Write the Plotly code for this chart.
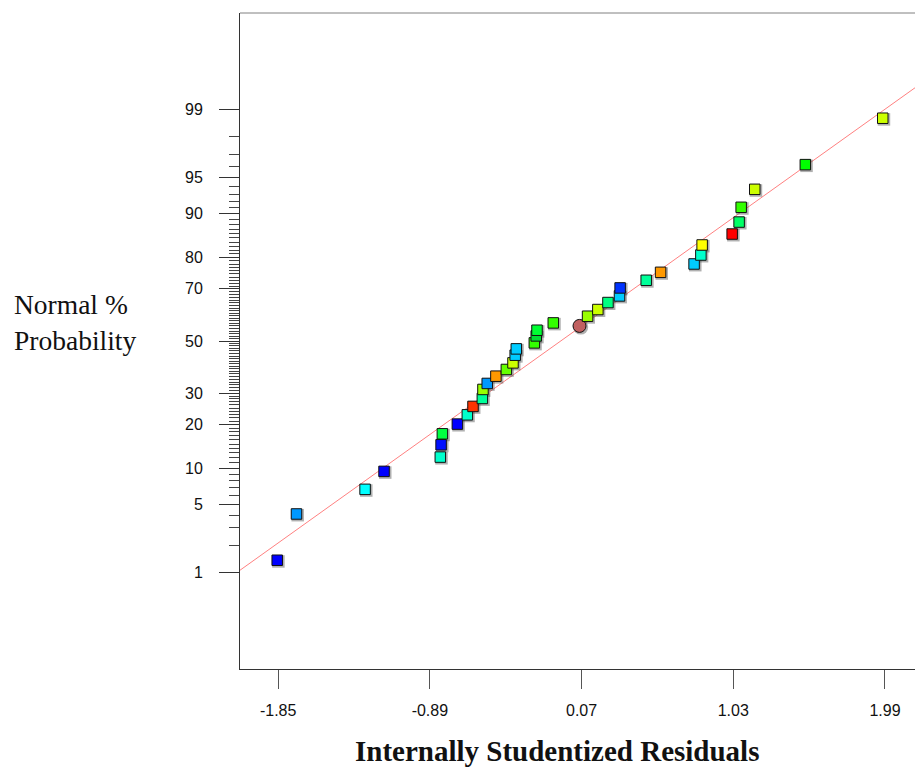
import plotly.graph_objects as go
from statistics import NormalDist

nd = NormalDist()

# Internally studentized residuals, sorted by their normal % probability
residuals = [-1.856, -1.734, -1.300, -1.180, -0.824, -0.819, -0.811, -0.716,
             -0.653, -0.617, -0.558, -0.554, -0.527, -0.472, -0.406, -0.364,
             -0.350, -0.343, -0.229, -0.217, -0.212, 0.057, -0.109, 0.108,
             0.173, 0.237, 0.310, 0.314, 0.479, 0.570, 0.782, 0.825, 0.833,
             1.023, 1.067, 1.080, 1.166, 1.486, 1.976]
normal_pct = [1.37, 4.09, 6.78, 9.48, 12.14, 14.82, 17.52, 20.16, 22.88,
              25.52, 28.16, 31.30, 33.47, 36.17, 38.73, 41.29, 44.32, 46.84,
              49.24, 52.04, 54.32, 56.03, 57.22, 59.84, 62.42, 65.06, 67.49,
              70.33, 72.94, 75.52, 78.08, 80.65, 83.30, 85.91, 88.43, 91.07,
              93.65, 96.20, 98.75]
point_colors = ["#0000FF", "#0099FF", "#00FFFF", "#0000FF", "#00FFCC", "#0010FF",
                "#00FF40", "#0000FF", "#00FFCC", "#FF3300", "#00FF99", "#99FF00",
                "#0099FF", "#FF9900", "#66FF00", "#CCFF00", "#00CCFF", "#00CCFF",
                "#33FF00", "#00DD33", "#00FF33", "#C06060", "#33FF00", "#99FF00",
                "#CCFF00", "#00FF80", "#00CCFF", "#0033FF", "#00FF99", "#FF9900",
                "#00CCFF", "#00FFCC", "#FFFF00", "#FF0000", "#00FF66", "#33FF00",
                "#CCFF00", "#00FF00", "#CCFF00"]
# the center point is drawn as a circle
point_symbols = ["square"] * 21 + ["circle"] + ["square"] * 17

# reference line through the residual distribution
resid_mean = -0.062
resid_sd = 0.880

x_ticks = [-1.85, -0.89, 0.07, 1.03, 1.99]
x_tick_labels = ["-1.85", "-0.89", "0.07", "1.03", "1.99"]
y_major_pct = [1, 5, 10, 20, 30, 50, 70, 80, 90, 95, 99]
y_minor_pct = [p for p in range(1, 100) if p not in y_major_pct]

X_RANGE = [-2.0915, 2.180]
Z_RANGE = [-3.30, 3.30]

W, H = 915, 768
ML, MR, MT, MB = 240, 0, 13, 99
plot_w = W - ML - MR
plot_h = H - MT - MB

z_vals = [nd.inv_cdf(p / 100.0) for p in normal_pct]

# small drop shadow offset, in axis units (~1.2 px right/down)
sx = 1.2 * (X_RANGE[1] - X_RANGE[0]) / plot_w
sz = 1.2 * (Z_RANGE[1] - Z_RANGE[0]) / plot_h

fig = go.Figure()

line_x = X_RANGE
line_z = [(x - resid_mean) / resid_sd for x in line_x]
fig.add_trace(go.Scatter(
    x=line_x, y=line_z, mode="lines",
    line=dict(color="#FF8080", width=1), hoverinfo="skip", showlegend=False,
))

fig.add_trace(go.Scatter(
    x=[x + sx for x in residuals], y=[z - sz for z in z_vals], mode="markers",
    marker=dict(symbol=point_symbols,
                size=[12.5 if s == "square" else 15 for s in point_symbols],
                color="rgba(80,80,80,0.45)", opacity=1, line=dict(width=0)),
    hoverinfo="skip", showlegend=False,
))

fig.add_trace(go.Scatter(
    x=residuals, y=z_vals, mode="markers",
    marker=dict(symbol=point_symbols,
                size=[10.5 if s == "square" else 13 for s in point_symbols],
                color=point_colors, opacity=1,
                line=dict(color="#111111", width=1)),
    customdata=normal_pct,
    hovertemplate="Residual: %{x:.3f}<br>Normal %%: %{customdata:.2f}<extra></extra>",
    showlegend=False,
))

axis_color = "#333333"

fig.update_xaxes(
    range=X_RANGE, showgrid=False, zeroline=False,
    showline=True, linecolor=axis_color, linewidth=1,
    tickmode="array", tickvals=x_ticks, ticktext=x_tick_labels,
    ticks="outside", ticklen=19, tickwidth=1, tickcolor="#555555",
    ticklabelstandoff=8,
    tickfont=dict(family="Liberation Sans, Arial", size=16, color="#111111"),
)
fig.update_yaxes(
    range=Z_RANGE, showgrid=False, zeroline=False,
    showline=True, linecolor=axis_color, linewidth=1,
    tickmode="array",
    tickvals=[nd.inv_cdf(p / 100.0) for p in y_major_pct],
    ticktext=[str(p) for p in y_major_pct],
    ticks="outside", ticklen=20, tickwidth=1, tickcolor="#333333",
    ticklabelstandoff=13,
    tickfont=dict(family="Liberation Sans, Arial", size=16, color="#111111"),
    minor=dict(tickmode="array",
               tickvals=[nd.inv_cdf(p / 100.0) for p in y_minor_pct],
               ticks="outside", ticklen=10, tickwidth=1, tickcolor="#444444"),
)

def px_x(px):
    return (px - ML) / plot_w

def px_y(py):
    return (H - MB - py) / plot_h

fig.add_shape(type="line", xref="paper", yref="paper",
              x0=0, x1=1, y0=1, y1=1, line=dict(color="#808080", width=1))

fig.add_annotation(
    text="Normal %<br>Probability", xref="paper", yref="paper",
    x=px_x(12), y=px_y(322), xanchor="left", yanchor="middle", align="left",
    showarrow=False,
    font=dict(family="Liberation Serif, Times New Roman", size=27.5, color="#111111"),
)
fig.add_annotation(
    text="<b>Internally Studentized Residuals</b>", xref="paper", yref="paper",
    x=px_x(557), y=px_y(751), xanchor="center", yanchor="middle",
    showarrow=False,
    font=dict(family="Liberation Serif, Times New Roman", size=29, color="#111111"),
)

fig.update_layout(
    width=W, height=H,
    margin=dict(l=ML, r=MR, t=MT, b=MB, pad=0),
    paper_bgcolor="white", plot_bgcolor="white",
    showlegend=False,
)

fig.write_html("out.html")
